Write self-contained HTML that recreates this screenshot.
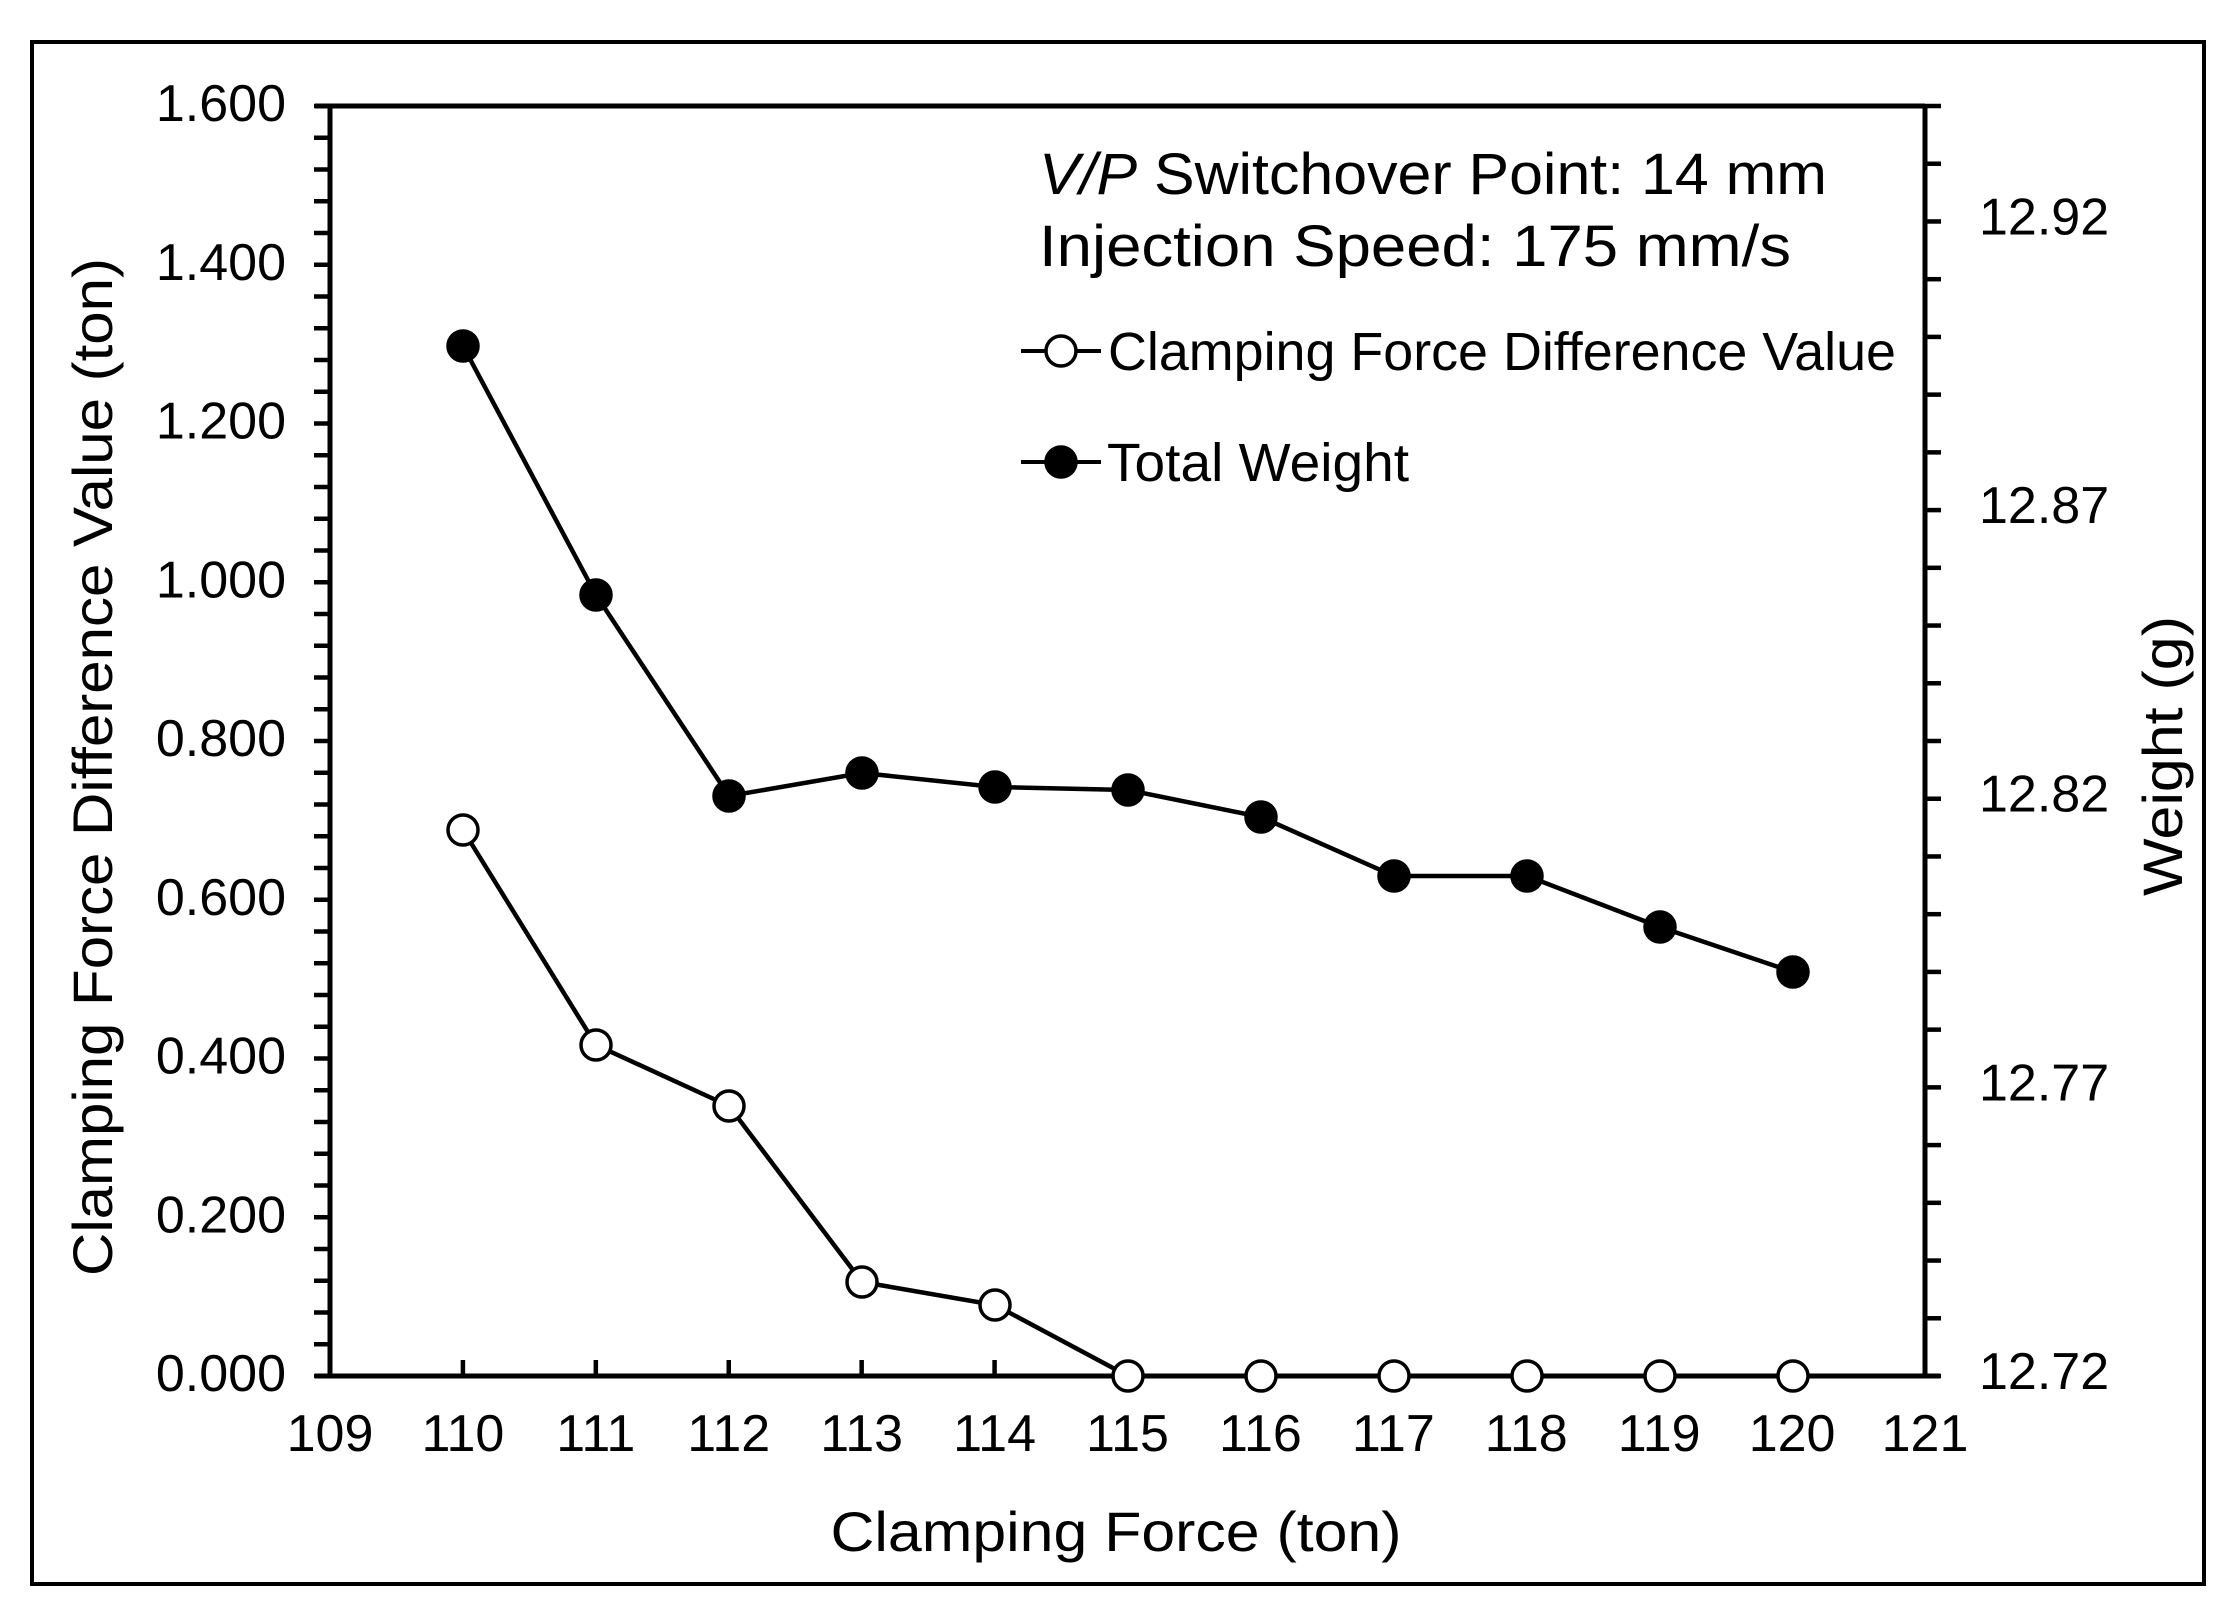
<!DOCTYPE html>
<html><head><meta charset="utf-8"><style>
html,body{margin:0;padding:0;background:#fff;}
svg{display:block;}
text{font-family:"Liberation Sans",Arial,sans-serif;fill:#000;}
</style></head><body>
<svg width="2239" height="1612" viewBox="0 0 2239 1612" xmlns="http://www.w3.org/2000/svg">
<rect x="0" y="0" width="2239" height="1612" fill="#fff"/>
<rect x="32" y="42" width="2172" height="1542" fill="none" stroke="#000" stroke-width="4"/>
<!-- axes -->
<g stroke="#000" stroke-width="5" fill="none">
<line x1="315" y1="106" x2="1925" y2="106"/>
<line x1="315" y1="1376" x2="1940" y2="1376"/>
<line x1="330" y1="104" x2="330" y2="1378"/>
<line x1="1925" y1="104" x2="1925" y2="1378"/>
</g>
<g stroke="#000" stroke-width="4.5" id="ticks"></g>
<g id="labels" font-size="52"></g>
<!-- texts -->
<text x="1039" y="194" font-size="58" textLength="788" lengthAdjust="spacingAndGlyphs"><tspan font-style="italic">V/P</tspan> Switchover  Point:  14 mm</text>
<text x="1039" y="266" font-size="58" textLength="752" lengthAdjust="spacingAndGlyphs">Injection  Speed:  175 mm/s</text>
<line x1="1021" y1="351" x2="1101" y2="351" stroke="#000" stroke-width="4"/>
<circle cx="1061" cy="351" r="15" fill="#fff" stroke="#000" stroke-width="3.5"/>
<text x="1108" y="370" font-size="54" textLength="788" lengthAdjust="spacingAndGlyphs">Clamping Force Difference Value</text>
<line x1="1021" y1="462" x2="1101" y2="462" stroke="#000" stroke-width="4"/>
<circle cx="1061" cy="462" r="15" fill="#000" stroke="#000" stroke-width="3.5"/>
<text x="1107" y="481" font-size="54" textLength="302" lengthAdjust="spacingAndGlyphs">Total Weight</text>
<text x="1116" y="1551" font-size="56" text-anchor="middle" textLength="571" lengthAdjust="spacingAndGlyphs">Clamping  Force  (ton)</text>
<text transform="translate(112,767) rotate(-90)" font-size="56" text-anchor="middle" textLength="1018" lengthAdjust="spacingAndGlyphs">Clamping  Force  Difference  Value  (ton)</text>
<text transform="translate(2182,756) rotate(-90)" font-size="56" text-anchor="middle" textLength="280" lengthAdjust="spacingAndGlyphs">Weight  (g)</text>
<!-- series -->
<polyline fill="none" stroke="#000" stroke-width="4.5" points="463,830 596,1045 729,1106 862,1282 995,1305 1128,1376 1261,1376 1394,1376 1527,1376 1660,1376 1793,1376"/>
<polyline fill="none" stroke="#000" stroke-width="4.5" points="463,346 596,595 729,796 862,773 995,787 1128,790 1261,817 1394,876 1527,876 1660,927 1793,972"/>
<g fill="#fff" stroke="#000" stroke-width="3.5">
<circle cx="463" cy="830" r="15"/><circle cx="596" cy="1045" r="15"/><circle cx="729" cy="1106" r="15"/><circle cx="862" cy="1282" r="15"/><circle cx="995" cy="1305" r="15"/><circle cx="1128" cy="1376" r="15"/><circle cx="1261" cy="1376" r="15"/><circle cx="1394" cy="1376" r="15"/><circle cx="1527" cy="1376" r="15"/><circle cx="1660" cy="1376" r="15"/><circle cx="1793" cy="1376" r="15"/>
</g>
<g fill="#000" stroke="#000" stroke-width="3.5">
<circle cx="463" cy="346" r="15"/><circle cx="596" cy="595" r="15"/><circle cx="729" cy="796" r="15"/><circle cx="862" cy="773" r="15"/><circle cx="995" cy="787" r="15"/><circle cx="1128" cy="790" r="15"/><circle cx="1261" cy="817" r="15"/><circle cx="1394" cy="876" r="15"/><circle cx="1527" cy="876" r="15"/><circle cx="1660" cy="927" r="15"/><circle cx="1793" cy="972" r="15"/>
</g>
<script>
(function(){
var ns="http://www.w3.org/2000/svg";
var t=document.getElementById("ticks"),L=document.getElementById("labels");
function ln(a,b,c,d){var e=document.createElementNS(ns,"line");e.setAttribute("x1",a);e.setAttribute("y1",b);e.setAttribute("x2",c);e.setAttribute("y2",d);t.appendChild(e);}
function tx(x,y,s,anc){var e=document.createElementNS(ns,"text");e.setAttribute("x",x);e.setAttribute("y",y);e.setAttribute("text-anchor",anc);e.textContent=s;L.appendChild(e);}
for(var i=0;i<=40;i++){var y=1376-i*1270/40;ln(314,y,330,y);if(i%5==0){tx(286,y+15,(i*0.04).toFixed(3),"end");}}
for(var j=0;j<=22;j++){var y2=1376-j*1270/22;ln(1925,y2,1941,y2);if(j%5==0){tx(1979,y2+13,(12.72+j*0.01).toFixed(2),"start");}}
for(var k=0;k<=12;k++){var x=330+k*1595/12;ln(x,1376,x,1360);tx(x,1451,String(109+k),"middle");}
})();
</script>
</svg>
</body></html>
